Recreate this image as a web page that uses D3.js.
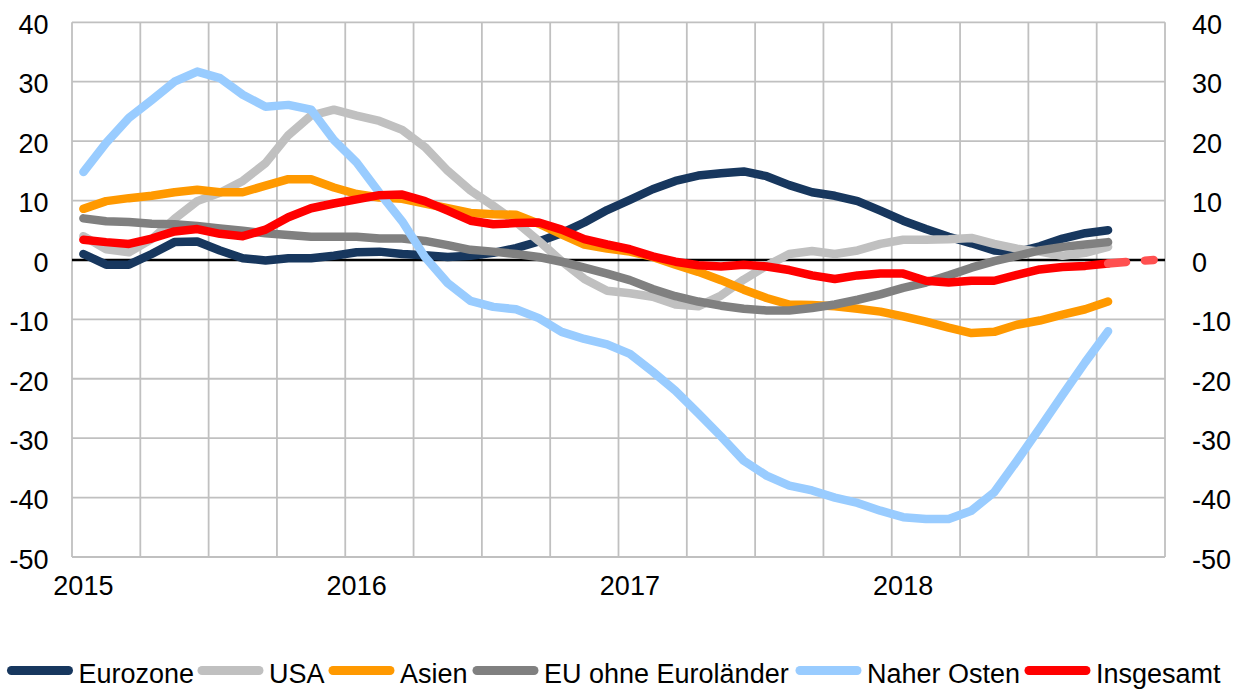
<!DOCTYPE html>
<html>
<head>
<meta charset="utf-8">
<script src="https://cdn.jsdelivr.net/npm/d3@7"></script>
<style>
  html, body { margin: 0; padding: 0; background: #fff; }
  svg { display: block; }
  text { font-family: "Liberation Sans", Arial, sans-serif; fill: #000; }
</style>
</head>
<body>
<svg id="chart" width="1242" height="689"></svg>
<script>
// ---- Data ----
const months = [
  "2015-01","2015-02","2015-03","2015-04","2015-05","2015-06","2015-07","2015-08","2015-09","2015-10","2015-11","2015-12",
  "2016-01","2016-02","2016-03","2016-04","2016-05","2016-06","2016-07","2016-08","2016-09","2016-10","2016-11","2016-12",
  "2017-01","2017-02","2017-03","2017-04","2017-05","2017-06","2017-07","2017-08","2017-09","2017-10","2017-11","2017-12",
  "2018-01","2018-02","2018-03","2018-04","2018-05","2018-06","2018-07","2018-08","2018-09","2018-10","2018-11","2018-12"
];
const yearLabels = ["2015", "2016", "2017", "2018"];
const yearLabelMonths = ["2015-01", "2016-01", "2017-01", "2018-01"];
const yTicks = [40, 30, 20, 10, 0, -10, -20, -30, -40, -50];

const eurozone = [1.0,-0.8,-0.8,1.0,3.0,3.1,1.6,0.3,-0.1,0.3,0.3,0.7,1.3,1.4,1.0,0.8,0.5,0.7,1.2,2.0,3.1,4.5,6.3,8.4,10.1,11.9,13.3,14.2,14.6,14.9,14.1,12.6,11.4,10.8,9.9,8.3,6.6,5.2,3.9,2.8,1.6,1.3,2.3,3.6,4.5,5.0];
const usa = [4.0,1.8,1.3,3.5,6.9,9.9,11.3,13.3,16.3,21.0,24.3,25.3,24.3,23.4,21.9,19.0,15.0,11.7,9.1,6.4,3.2,-0.2,-3.2,-5.2,-5.6,-6.2,-7.5,-7.8,-6.0,-3.3,-1.0,1.0,1.5,1.0,1.6,2.7,3.4,3.4,3.5,3.7,2.7,1.9,1.4,0.7,1.2,2.2];
const asien = [8.6,9.9,10.4,10.8,11.4,11.8,11.4,11.4,12.5,13.6,13.6,12.2,11.1,10.5,10.3,9.5,8.7,7.9,7.7,7.6,6.1,4.3,2.6,1.9,1.4,0.5,-0.8,-2.0,-3.4,-5.0,-6.4,-7.5,-7.6,-7.8,-8.2,-8.7,-9.5,-10.4,-11.4,-12.3,-12.1,-10.9,-10.2,-9.2,-8.3,-7.0];
const euOhneEuro = [7.0,6.5,6.4,6.1,6.0,5.7,5.3,4.9,4.5,4.2,3.9,3.9,3.9,3.6,3.6,3.2,2.5,1.7,1.4,1.0,0.5,-0.3,-1.3,-2.3,-3.4,-4.9,-6.1,-7.0,-7.7,-8.2,-8.5,-8.5,-8.1,-7.5,-6.7,-5.8,-4.7,-3.8,-2.6,-1.3,-0.2,0.7,1.6,2.2,2.6,3.0];
const naherOsten = [14.8,19.7,23.9,26.9,30.0,31.7,30.6,27.8,25.8,26.1,25.3,20.2,16.4,11.3,6.5,0.5,-3.9,-6.9,-7.9,-8.3,-9.8,-12.1,-13.3,-14.2,-15.8,-18.8,-22.0,-25.8,-29.7,-33.8,-36.3,-38.0,-38.8,-40.0,-40.9,-42.2,-43.3,-43.6,-43.6,-42.2,-39.1,-33.8,-28.3,-22.7,-17.2,-12.0];
const insgesamt = [3.4,3.0,2.7,3.6,4.8,5.2,4.4,4.0,5.1,7.2,8.7,9.5,10.2,10.9,11.0,9.9,8.3,6.6,6.0,6.2,6.3,5.1,3.5,2.6,1.8,0.6,-0.3,-0.9,-1.1,-0.8,-1.1,-1.7,-2.6,-3.2,-2.6,-2.3,-2.3,-3.5,-3.8,-3.5,-3.5,-2.5,-1.6,-1.2,-1.0,-0.6];
const insgesamtForecastMonths = ["2018-10", "2018-11", "2018-12"];
const insgesamtForecast = [-0.6, -0.3, 0.0];

const seriesNames = ["Eurozone", "USA", "Asien", "EU ohne Euroländer", "Naher Osten", "Insgesamt"];
const seriesValues = [eurozone, usa, asien, euOhneEuro, naherOsten, insgesamt];
const seriesColors = ["#17375E", "#C0C0C0", "#FF9900", "#808080", "#99CCFF", "#FF0000"];

// ---- Layout ----
const svg = d3.select("#chart");
const plot = { left: 72, right: 1165, top: 22.3, bottom: 557 };
const FONT = 27;

const x = d3.scaleBand().domain(months).range([plot.left, plot.right]).padding(0);
const xc = m => x(m) + x.bandwidth() / 2;
const y = d3.scaleLinear().domain([-50, 40]).range([plot.bottom, plot.top]);

// Horizontal gridlines
svg.append("g")
  .selectAll("line")
  .data(yTicks)
  .join("line")
  .attr("x1", plot.left).attr("x2", plot.right)
  .attr("y1", d => y(d)).attr("y2", d => y(d))
  .attr("stroke", "#C0C0C0").attr("stroke-width", 1.8);

// Vertical gridlines (quarterly)
const quarterMonths = months.filter((m, i) => i % 3 === 0);
svg.append("g")
  .selectAll("line")
  .data(quarterMonths)
  .join("line")
  .attr("x1", d => x(d)).attr("x2", d => x(d))
  .attr("y1", plot.top).attr("y2", plot.bottom)
  .attr("stroke", "#C0C0C0").attr("stroke-width", 1.8);
svg.append("line")
  .attr("x1", plot.right).attr("x2", plot.right)
  .attr("y1", plot.top).attr("y2", plot.bottom)
  .attr("stroke", "#C0C0C0").attr("stroke-width", 1.8);

// Zero line
svg.append("line")
  .attr("x1", plot.left).attr("x2", plot.right)
  .attr("y1", y(0)).attr("y2", y(0))
  .attr("stroke", "#000").attr("stroke-width", 2.6);

const fmt = d => String(d);

// Left y axis labels
const yAxisL = d3.axisLeft(y).tickValues(yTicks).tickSize(0).tickPadding(0).tickFormat(fmt);
const gL = svg.append("g").attr("transform", `translate(${48.5},0)`).call(yAxisL);
gL.select(".domain").remove();
gL.selectAll("text").attr("font-size", FONT).attr("font-family", "Liberation Sans, Arial, sans-serif")
  .attr("fill", "#000").attr("dy", "0.36em").attr("y", 1.5);

// Right y axis labels
const yAxisR = d3.axisRight(y).tickValues(yTicks).tickSize(0).tickPadding(0).tickFormat(fmt);
const gR = svg.append("g").attr("transform", `translate(${1192},0)`).call(yAxisR);
gR.select(".domain").remove();
gR.selectAll("text").attr("font-size", FONT).attr("font-family", "Liberation Sans, Arial, sans-serif")
  .attr("fill", "#000").attr("dy", "0.36em").attr("y", 1.5);

// X axis labels
svg.append("g")
  .selectAll("text")
  .data(yearLabels)
  .join("text")
  .attr("x", (d, i) => xc(yearLabelMonths[i]))
  .attr("y", 595)
  .attr("text-anchor", "middle")
  .attr("font-size", FONT)
  .text(d => d);

// Lines
const line = d3.line()
  .x((d, i) => xc(months[i]))
  .y(d => y(d))
  .curve(d3.curveLinear);

svg.append("g")
  .selectAll("path")
  .data(seriesValues)
  .join("path")
  .attr("d", d => line(d))
  .attr("fill", "none")
  .attr("stroke", (d, i) => seriesColors[i])
  .attr("stroke-width", 8.5)
  .attr("stroke-linejoin", "round")
  .attr("stroke-linecap", "round");

// Forecast (dashed) extension of Insgesamt
const fLine = d3.line()
  .x((d, i) => xc(insgesamtForecastMonths[i]))
  .y(d => y(d));
svg.append("path")
  .attr("d", fLine(insgesamtForecast))
  .attr("fill", "none")
  .attr("stroke", "#FF5050")
  .attr("stroke-width", 8.5)
  .attr("stroke-linecap", "round")
  .attr("stroke-dasharray", "18,19");

// Legend
const legendLineX = [11.5, 202, 333, 477, 800, 1029];
const legendY = 670.5;
const lg = svg.append("g");
seriesNames.forEach((name, i) => {
  lg.append("line")
    .attr("x1", legendLineX[i]).attr("x2", legendLineX[i] + 57)
    .attr("y1", legendY).attr("y2", legendY)
    .attr("stroke", seriesColors[i]).attr("stroke-width", 9)
    .attr("stroke-linecap", "round");
  lg.append("text")
    .attr("x", legendLineX[i] + 67)
    .attr("y", 682.5)
    .attr("font-size", FONT)
    .text(name);
});
</script>
</body>
</html>
